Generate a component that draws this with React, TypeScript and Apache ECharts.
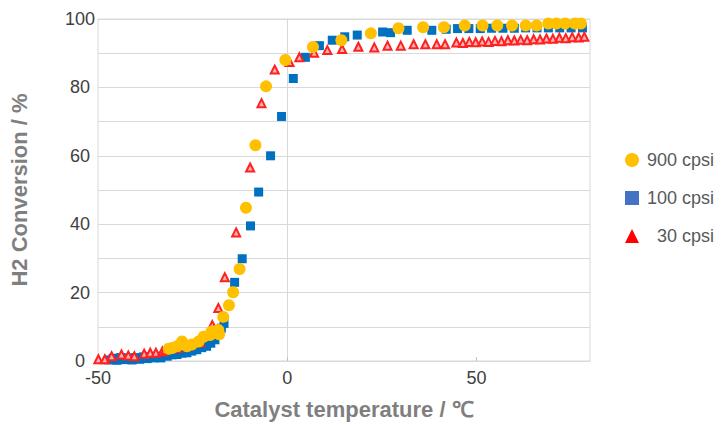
import React, { useEffect, useRef } from "react";
import * as echarts from "echarts";

// 900 cpsi (yellow circles)
const t900 = [-31.3, -30.4, -29.1, -27.8, -26.5, -25.2, -23.4, -22.1, -20.4, -20.0, -18.2, -18.0, -16.9, -15.4, -14.3, -12.6, -10.9, -8.4, -5.6, -0.5, 6.8, 14.3, 22.1, 29.4, 35.9, 41.4, 46.9, 51.6, 55.5, 59.4, 63.0, 65.9, 69.0, 71.1, 73.4, 76.0, 77.6];
const c900 = [3.6, 3.8, 4.3, 5.7, 4.3, 4.8, 5.7, 7.1, 7.6, 8.6, 9.1, 7.8, 12.9, 16.3, 20.1, 26.9, 44.8, 63.1, 80.3, 88.0, 91.8, 93.8, 95.8, 97.3, 97.6, 97.6, 98.1, 98.1, 98.1, 98.1, 98.1, 98.1, 98.7, 98.7, 98.7, 98.7, 98.7];

// 100 cpsi (blue squares)
const t100 = [-47.2, -46.0, -45.0, -44.0, -43.0, -42.0, -41.0, -40.0, -39.0, -38.0, -37.0, -36.0, -35.2, -34.2, -33.4, -32.5, -31.7, -30.4, -29.1, -27.8, -26.5, -25.2, -23.9, -22.6, -21.3, -20.2, -19.1, -18.2, -17.4, -16.7, -13.9, -11.9, -9.7, -7.55, -4.4, -1.5, 1.6, 4.8, 8.5, 11.9, 15.2, 18.5, 25.2, 27.3, 31.7, 38.2, 42.0, 45.0, 48.0, 51.0, 54.0, 57.0, 60.0, 63.0, 66.0, 69.0, 72.0, 75.0, 78.0];
const c100 = [0.3, 0.8, 0.2, 1.0, 0.4, 0.9, 0.3, 1.0, 0.5, 1.2, 0.7, 1.3, 0.9, 1.4, 0.9, 1.6, 1.4, 1.8, 1.9, 2.3, 2.4, 2.9, 3.3, 3.9, 4.3, 5.2, 6.2, 8.0, 9.6, 11.0, 23.0, 29.9, 39.5, 49.4, 60.0, 71.5, 82.6, 88.8, 92.2, 93.8, 94.8, 95.3, 96.2, 96.0, 96.7, 96.7, 97.0, 97.2, 97.2, 97.2, 97.3, 97.3, 97.3, 97.4, 97.4, 97.4, 97.4, 97.4, 97.4];

// 30 cpsi (red triangles)
const t30 = [-49.9, -48.2, -46.4, -43.8, -42.0, -40.4, -37.8, -36.2, -34.7, -33.0, -32.2, -29.0, -26.0, -23.0, -21.0, -19.8, -18.2, -16.5, -13.5, -9.8, -6.8, -3.3, 0.6, 3.2, 7.1, 10.6, 14.5, 18.8, 23.0, 26.5, 30.0, 33.4, 36.5, 39.5, 41.7, 44.7, 46.4, 48.1, 49.8, 51.5, 53.2, 54.9, 56.6, 58.3, 60.0, 61.7, 63.4, 65.1, 66.8, 68.5, 70.2, 71.9, 73.6, 75.3, 77.0, 78.5];
const c30 = [0.5, 0.5, 1.4, 1.9, 1.6, 1.4, 2.1, 2.4, 2.4, 2.8, 3.3, 3.8, 4.5, 5.5, 7.5, 10.5, 15.5, 24.5, 37.6, 56.6, 75.4, 85.2, 87.4, 88.8, 90.1, 90.9, 91.2, 91.9, 91.7, 92.2, 92.2, 92.6, 92.6, 92.6, 92.6, 93.1, 93.0, 93.3, 93.2, 93.4, 93.3, 93.6, 93.5, 93.8, 93.7, 93.9, 93.8, 94.1, 94.0, 94.3, 94.2, 94.5, 94.4, 94.7, 94.6, 94.8];

const seriesNames = ["900 cpsi", "100 cpsi", "30 cpsi"];
const xTicks = [-50, 0, 50];
const yLabelTicks = [0, 20, 40, 60, 80, 100];

const zip = (a: number[], b: number[]) => a.map((v, i) => [v, b[i]]);

export default function App() {
  const ref = useRef<HTMLDivElement>(null);
  useEffect(() => {
    if (!ref.current) return;
    const chart = echarts.init(ref.current, null, { renderer: "svg" });
    const font = "'Liberation Sans', Arial, sans-serif";
    chart.setOption({
      animation: false,
      textStyle: { fontFamily: font },
      grid: {
        left: 93,
        right: 133,
        top: 19,
        bottom: 58,
        show: true,
        borderColor: "#d9d9d9",
        borderWidth: 1,
      },
      legend: {
        orient: "vertical",
        left: 620,
        top: 146,
        itemWidth: 14,
        itemHeight: 14,
        itemGap: 20,
        data: [
          { name: seriesNames[0], icon: "circle", itemStyle: { color: "#FFC000", borderWidth: 0 } },
          { name: seriesNames[1], icon: "rect", itemStyle: { color: "#4472C4", borderWidth: 0 } },
          { name: seriesNames[2], icon: "triangle", itemStyle: { color: "#FF0000", borderWidth: 0 } },
        ],
        formatter: (n: string) => (n === seriesNames[2] ? "{w|}" + n : "{g|}" + n),
        textStyle: {
          fontSize: 18,
          color: "#595959",
          fontFamily: font,
          rich: { g: { width: 3 }, w: { width: 13 } },
        },
      },
      xAxis: {
        type: "value",
        min: -50,
        max: 80,
        interval: 50,
        name: "Catalyst temperature / ℃",
        nameLocation: "middle",
        nameGap: 37,
        nameTextStyle: { fontSize: 22, fontWeight: "bold", color: "#7f7f7f", fontFamily: font },
        axisLine: { show: true, lineStyle: { color: "#d9d9d9" } },
        axisTick: { show: true, inside: true, length: 4, lineStyle: { color: "#bfbfbf" } },
        splitLine: { show: false },
        axisLabel: {
          fontSize: 18,
          color: "#404040",
          margin: 8,
          showMaxLabel: false,
          formatter: (v: number) => (xTicks.includes(v) ? String(v) : ""),
        },
      },
      yAxis: {
        type: "value",
        min: 0,
        max: 100,
        interval: 10,
        name: "H2 Conversion / %",
        nameLocation: "middle",
        nameGap: 68,
        nameTextStyle: { fontSize: 22, fontWeight: "bold", color: "#7f7f7f", fontFamily: font },
        axisLine: { show: true, lineStyle: { color: "#d9d9d9" } },
        axisTick: { show: false },
        splitLine: { show: true, lineStyle: { color: "#d9d9d9", width: 1 } },
        axisLabel: {
          fontSize: 18,
          color: "#404040",
          margin: 18,
          align: "center",
          formatter: (v: number) => (yLabelTicks.includes(v) ? String(v) : ""),
        },
      },
      series: [
        {
          name: seriesNames[0],
          type: "scatter",
          symbol: "circle",
          symbolSize: 12,
          z: 4,
          itemStyle: { color: "#FFC000", opacity: 1 },
          data: zip(t900, c900),
        },
        {
          name: seriesNames[1],
          type: "scatter",
          symbol: "rect",
          symbolSize: 9,
          z: 2,
          itemStyle: { color: "#0070C0", opacity: 1 },
          data: zip(t100, c100),
        },
        {
          name: seriesNames[2],
          type: "scatter",
          symbol: "triangle",
          symbolSize: 8,
          z: 3,
          itemStyle: { color: "#FFB3B3", borderColor: "#FF2020", borderWidth: 2, opacity: 1 },
          data: zip(t30, c30),
        },
      ],
    });
    return () => chart.dispose();
  }, []);
  return (
    <div
      ref={ref}
      style={{ position: "fixed", left: 0, top: 0, width: 723, height: 425, background: "#fff" }}
    />
  );
}
